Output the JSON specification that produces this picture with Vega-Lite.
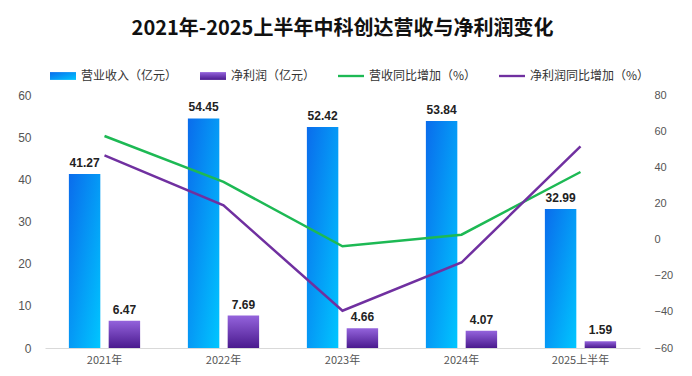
{
  "$schema": "https://vega.github.io/schema/vega-lite/v6.json",
  "autosize": {"type": "none"},
  "width": 595,
  "height": 253,
  "padding": {"left": 45, "top": 95, "right": 52, "bottom": 28},
  "background": "white",
  "title": {
    "text": "2021年-2025上半年中科创达营收与净利润变化",
    "font": "Noto Sans CJK SC",
    "fontSize": 20,
    "fontWeight": "bold",
    "color": "#111111",
    "anchor": "middle",
    "offset": 24
  },
  "config": {
    "view": {"stroke": null},
    "font": "Noto Sans CJK SC",
    "axis": {"labelFont": "Liberation Sans", "labelColor": "#555555", "labelFontSize": 11, "grid": false, "ticks": false, "domain": false, "title": null}
  },
  "datasets": {
    "bars": [
      {"year": "2021年", "series": "营业收入（亿元）", "value": 41.27},
      {"year": "2022年", "series": "营业收入（亿元）", "value": 54.45},
      {"year": "2023年", "series": "营业收入（亿元）", "value": 52.42},
      {"year": "2024年", "series": "营业收入（亿元）", "value": 53.84},
      {"year": "2025上半年", "series": "营业收入（亿元）", "value": 32.99},
      {"year": "2021年", "series": "净利润（亿元）", "value": 6.47},
      {"year": "2022年", "series": "净利润（亿元）", "value": 7.69},
      {"year": "2023年", "series": "净利润（亿元）", "value": 4.66},
      {"year": "2024年", "series": "净利润（亿元）", "value": 4.07},
      {"year": "2025上半年", "series": "净利润（亿元）", "value": 1.59}
    ],
    "lines": [
      {"year": "2021年", "series": "营收同比增加（%）", "value": 57.3},
      {"year": "2022年", "series": "营收同比增加（%）", "value": 31.9},
      {"year": "2023年", "series": "营收同比增加（%）", "value": -3.7},
      {"year": "2024年", "series": "营收同比增加（%）", "value": 2.7},
      {"year": "2025上半年", "series": "营收同比增加（%）", "value": 37.4},
      {"year": "2021年", "series": "净利润同比增加（%）", "value": 46.6},
      {"year": "2022年", "series": "净利润同比增加（%）", "value": 18.9},
      {"year": "2023年", "series": "净利润同比增加（%）", "value": -39.4},
      {"year": "2024年", "series": "净利润同比增加（%）", "value": -12.7},
      {"year": "2025上半年", "series": "净利润同比增加（%）", "value": 51.6}
    ]
  },
  "encoding": {
    "x": {
      "field": "year",
      "type": "nominal",
      "sort": null,
      "scale": {"domain": ["2021年", "2022年", "2023年", "2024年", "2025上半年"], "paddingInner": 0, "paddingOuter": 0},
      "axis": {"labelAngle": 0, "domain": true, "domainColor": "#d9d9d9", "labelFont": "Noto Sans CJK SC", "labelPadding": 6, "labelFontSize": 11}
    }
  },
  "layer": [
    {
      "data": {"name": "bars"},
      "encoding": {
        "y": {"field": "value", "type": "quantitative", "scale": {"domain": [0, 60], "nice": false}, "axis": {"values": [0, 10, 20, 30, 40, 50, 60], "labelPadding": 14, "labelFontSize": 12}},
        "xOffset": {"field": "series", "type": "nominal", "scale": {"domain": ["营业收入（亿元）", "净利润（亿元）"], "paddingInner": 0.21, "paddingOuter": 0.6}}
      },
      "layer": [
        {
          "transform": [{"filter": "datum.series === '营业收入（亿元）'"}],
          "mark": {"type": "bar", "color": {"gradient": "linear", "x1": 0, "y1": 0, "x2": 1, "y2": 1, "stops": [{"offset": 0, "color": "#0a6cec"}, {"offset": 1, "color": "#00c6ff"}]}}
        },
        {
          "transform": [{"filter": "datum.series === '净利润（亿元）'"}],
          "mark": {"type": "bar", "color": {"gradient": "linear", "x1": 0, "y1": 0, "x2": 0, "y2": 1, "stops": [{"offset": 0, "color": "#9463dc"}, {"offset": 1, "color": "#4a1a8e"}]}}
        },
        {
          "mark": {"type": "text", "dy": -11, "fontSize": 12, "fontWeight": "bold", "color": "#222222", "font": "Liberation Sans"},
          "encoding": {"text": {"field": "value", "type": "quantitative", "format": ".2f"}}
        }
      ]
    },
    {
      "data": {"name": "lines"},
      "mark": {"type": "line", "strokeWidth": 2.5},
      "encoding": {
        "y": {"field": "value", "type": "quantitative", "scale": {"domain": [-60, 80], "nice": false}, "axis": {"orient": "right", "values": [-60, -40, -20, 0, 20, 40, 60, 80], "labelPadding": 14, "labelFontSize": 11}},
        "color": {
          "field": "series",
          "type": "nominal",
          "scale": {
            "domain": ["营业收入（亿元）", "净利润（亿元）", "营收同比增加（%）", "净利润同比增加（%）"],
            "range": ["#1a96f2", "#6a3cc0", "#1db954", "#7030a0"]
          },
          "legend": {
            "orient": "none",
            "legendX": 5,
            "legendY": -32,
            "direction": "horizontal",
            "title": null,
            "symbolType": "M-1,-0.3H1V0.3H-1Z",
            "symbolSize": 676,
            "symbolStrokeWidth": 0,
            "labelFontSize": 12,
            "labelColor": "#333333",
            "labelFont": "Noto Sans CJK SC",
            "columnPadding": 22,
            "labelOffset": 5,
            "encode": {
              "symbols": {
                "update": {
                  "shape": {"signal": "indexof(['营收同比增加（%）','净利润同比增加（%）'], datum.value) >= 0 ? 'M-1,-0.09H1V0.09H-1Z' : 'M-1,-0.3H1V0.3H-1Z'"},
                  "fill": {"signal": "datum.value === '营业收入（亿元）' ? {gradient: 'linear', id: 'lg_rev', x1: 0, y1: 0, x2: 1, y2: 1, stops: [{offset: 0, color: '#0a6cec'}, {offset: 1, color: '#00c6ff'}]} : datum.value === '净利润（亿元）' ? {gradient: 'linear', id: 'lg_np', x1: 0, y1: 0, x2: 0, y2: 1, stops: [{offset: 0, color: '#9463dc'}, {offset: 1, color: '#4a1a8e'}]} : scale('color', datum.value)"},
                  "fillOpacity": {"value": 1},
                  "strokeWidth": {"value": 0}
                }
              }
            }
          }
        }
      }
    }
  ],
  "resolve": {"scale": {"y": "independent"}}
}
